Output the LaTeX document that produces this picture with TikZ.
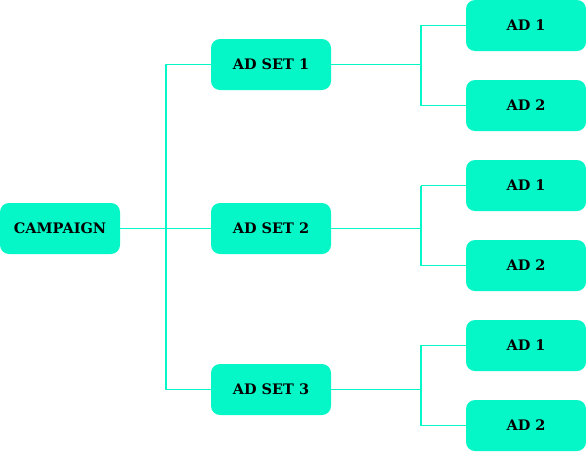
\documentclass[tikz,border=0pt]{standalone}
\usepackage{fontspec}
\setmainfont{DejaVu Serif}
\usepackage{tikz}
\usetikzlibrary{positioning,calc}
\definecolor{mint}{RGB}{5,247,200}

\begin{document}
\begin{tikzpicture}[x=1pt,y=-1pt,
    box/.style={fill=mint, rounded corners=9pt, minimum width=120pt, minimum height=51pt,
                inner sep=0pt, font=\fontsize{14.5}{16}\selectfont\bfseries},
    link/.style={draw=mint, line width=1.2pt}]
            \useasboundingbox (0,0) rectangle (586,453);

            \node[box] (campaign) at (60,228.5) {CAMPAIGN};

            \node[box] (set1) at (271,64.5) {AD SET 1};
            \node[box] (set2) at (271,228.5) {AD SET 2};
            \node[box] (set3) at (271,389.5) {AD SET 3};

            \node[box] (ad11) at (526,25.5) {AD 1};
            \node[box] (ad12) at (526,105.5) {AD 2};
            \node[box] (ad21) at (526,185.5) {AD 1};
            \node[box] (ad22) at (526,265.5) {AD 2};
            \node[box] (ad31) at (526,345.5) {AD 1};
            \node[box] (ad32) at (526,425.5) {AD 2};

            \coordinate (fork) at (166,228.5);
            \coordinate (fork1) at (421,64.5);
            \coordinate (fork2) at (421,228.5);
            \coordinate (fork3) at (421,389.5);

            \draw[link] (campaign.east) -- (fork);
            \draw[link] (fork) |- (set1.west);
            \draw[link] (fork) -- (set2.west);
            \draw[link] (fork) |- (set3.west);

            \draw[link] (set1.east) -- (fork1);
            \draw[link] (fork1) |- (ad11.west);
            \draw[link] (fork1) |- (ad12.west);

            \draw[link] (set2.east) -- (fork2);
            \draw[link] (fork2 |- ad21.west) |- (ad21.west);
            \draw[link] (fork2 |- ad21.west) |- (ad22.west);

            \draw[link] (set3.east) -- (fork3);
            \draw[link] (fork3) |- (ad31.west);
            \draw[link] (fork3) |- (ad32.west);
        \end{tikzpicture}
\end{document}
